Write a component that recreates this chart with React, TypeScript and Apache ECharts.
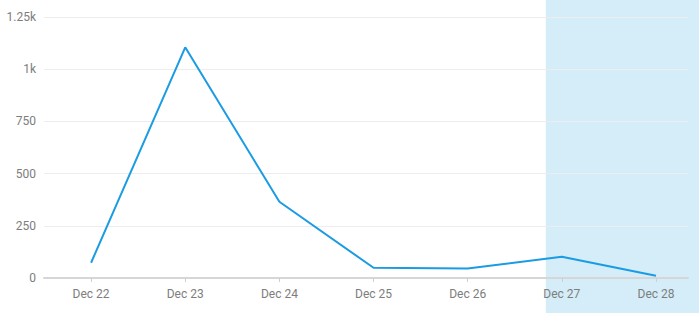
import React, { useEffect, useRef } from "react";
import * as echarts from "echarts";

const categories = ["Dec 22", "Dec 23", "Dec 24", "Dec 25", "Dec 26", "Dec 27", "Dec 28"];
const values = [73, 1105, 365, 49, 45, 102, 11];
const yTicks = [0, 250, 500, 750, 1000, 1250];
const shadeStartIndex = 4.83;

export default function App() {
  const ref = useRef<HTMLDivElement>(null);
  useEffect(() => {
    if (!ref.current) return;
    const chart = echarts.init(ref.current, null, { renderer: "svg" });
    const idx = categories.map((_, i) => i);
    chart.setOption({
      animation: false,
      textStyle: { fontFamily: "Roboto, 'Noto Sans', sans-serif" },
      grid: { left: 44, right: 11, top: 17, bottom: 35, containLabel: false },
      xAxis: {
        type: "value",
        min: -0.5,
        max: 6.34,
        splitLine: { show: false },
        axisLine: { show: true, onZero: false, lineStyle: { color: "#d6d6d6", width: 2 } },
        axisTick: { show: true, customValues: idx, length: 4, lineStyle: { color: "#cfcfcf" } },
        axisLabel: {
          customValues: idx,
          formatter: (v: number) => categories[Math.round(v)] ?? "",
          color: "#7d7d7d",
          fontSize: 12,
          margin: 10,
        },
      },
      yAxis: {
        type: "value",
        min: yTicks[0],
        max: yTicks[yTicks.length - 1],
        interval: 250,
        axisLine: { show: false },
        axisTick: { show: false },
        splitLine: { lineStyle: { color: "#ededed", width: 1 } },
        axisLabel: {
          color: "#7d7d7d",
          fontSize: 12,
          margin: 8,
          formatter: (v: number) => (v >= 1000 ? `${v / 1000}k` : `${v}`),
        },
      },
      series: [
        {
          type: "line",
          data: values.map((v, i) => [i, v]),
          showSymbol: false,
          lineStyle: { color: "#1a9be3", width: 2 },
          itemStyle: { color: "#1a9be3" },
          z: 5,
        },
      ],
    });
    const x0 = chart.convertToPixel({ xAxisIndex: 0 }, shadeStartIndex) as number;
    const w = chart.getWidth();
    const h = chart.getHeight();
    chart.setOption({
      graphic: [
        {
          type: "rect",
          z: -10,
          silent: true,
          shape: { x: x0, y: 0, width: w - x0, height: h },
          style: { fill: "rgba(160, 216, 240, 0.45)" },
        },
      ],
    });
    return () => chart.dispose();
  }, []);
  return <div ref={ref} style={{ width: 699, height: 313, position: "absolute", left: 0, top: 0 }} />;
}
